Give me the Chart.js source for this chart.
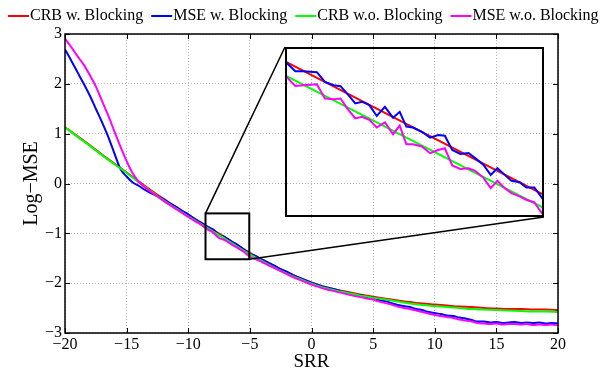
<!DOCTYPE html>
<html>
<head>
<meta charset="utf-8">
<script src="https://cdn.jsdelivr.net/npm/chart.js@4/dist/chart.umd.min.js"></script>
<style>
  body { margin: 0; background: #fff; }
  #wrap { position: relative; width: 600px; height: 375px; }
  #main { position: absolute; left: 0; top: 0; }
  #inset { position: absolute; left: 285px; top: 47px; }
</style>
</head>
<body>
<div id="wrap">
  <canvas id="main" width="600" height="375"></canvas>
  <canvas id="inset" width="259" height="170"></canvas>
</div>
<script>
// SRR grid of the CRB curves (1 dB steps)
const srrCoarse = [-20, -19, -18, -17, -16, -15, -14, -13, -12, -11,
  -10, -9, -8, -7, -6, -5, -4, -3, -2, -1,
  0, 1, 2, 3, 4, 5, 6, 7, 8, 9,
  10, 11, 12, 13, 14, 15, 16, 17, 18, 19, 20];

const crbBlock = [1.13, 0.95, 0.77, 0.58, 0.40, 0.22, 0.04, -0.14, -0.31, -0.47,
  -0.63, -0.78, -0.93, -1.08, -1.24, -1.39, -1.53, -1.66, -1.78, -1.89,
  -1.99, -2.07, -2.13, -2.18, -2.23, -2.27, -2.31, -2.35, -2.38, -2.41,
  -2.43, -2.45, -2.47, -2.48, -2.50, -2.51, -2.52, -2.52, -2.53, -2.53, -2.54];

const crbNoBlock = [1.13, 0.94, 0.76, 0.57, 0.39, 0.21, 0.02, -0.16, -0.34, -0.50,
  -0.66, -0.81, -0.96, -1.11, -1.27, -1.42, -1.56, -1.69, -1.81, -1.91,
  -2.01, -2.09, -2.15, -2.20, -2.25, -2.29, -2.33, -2.37, -2.41, -2.44,
  -2.46, -2.48, -2.50, -2.52, -2.53, -2.54, -2.55, -2.56, -2.57, -2.57, -2.58];

// SRR grid of the simulated MSE curves (0.5 dB steps)
const srrFine = [-20, -19.5, -19, -18.5, -18, -17.5, -17, -16.5, -16, -15.5,
  -15, -14.5, -14, -13.5, -13, -12.5, -12, -11.5, -11, -10.5,
  -10, -9.5, -9, -8.5, -8, -7.5, -7, -6.5, -6, -5.5,
  -5, -4.5, -4, -3.5, -3, -2.5, -2, -1.5, -1, -0.5,
  0, 0.5, 1, 1.5, 2, 2.5, 3, 3.5, 4, 4.5,
  5, 5.5, 6, 6.5, 7, 7.5, 8, 8.5, 9, 9.5,
  10, 10.5, 11, 11.5, 12, 12.5, 13, 13.5, 14, 14.5,
  15, 15.5, 16, 16.5, 17, 17.5, 18, 18.5, 19, 19.5, 20];

const mseBlock = [2.69, 2.47, 2.24, 2.01, 1.77, 1.50, 1.23, 0.94, 0.61, 0.29,
  0.14, 0.02, -0.05, -0.13, -0.20, -0.25, -0.32, -0.40, -0.47, -0.55,
  -0.62, -0.71, -0.78, -0.86, -0.92, -1.03, -1.08, -1.16, -1.23, -1.32,
  -1.41, -1.46, -1.53, -1.59, -1.65, -1.72, -1.77, -1.84, -1.89, -1.94,
  -1.99, -2.03, -2.07, -2.10, -2.13, -2.17, -2.19, -2.23, -2.24, -2.28,
  -2.29, -2.34, -2.36, -2.40, -2.44, -2.46, -2.48, -2.52, -2.54, -2.58,
  -2.60, -2.62, -2.65, -2.66, -2.69, -2.71, -2.74, -2.77, -2.77, -2.79,
  -2.78, -2.80, -2.79, -2.78, -2.80, -2.79, -2.80, -2.79, -2.81, -2.80, -2.81];

const mseNoBlock = [2.91, 2.74, 2.56, 2.39, 2.18, 1.95, 1.66, 1.37, 1.05, 0.74,
  0.45, 0.20, 0.03, -0.08, -0.17, -0.26, -0.35, -0.43, -0.51, -0.59,
  -0.67, -0.75, -0.82, -0.91, -0.98, -1.09, -1.14, -1.22, -1.29, -1.37,
  -1.47, -1.52, -1.58, -1.64, -1.70, -1.76, -1.82, -1.88, -1.93, -1.98,
  -2.03, -2.07, -2.11, -2.14, -2.17, -2.20, -2.23, -2.26, -2.28, -2.31,
  -2.33, -2.37, -2.40, -2.43, -2.47, -2.50, -2.52, -2.55, -2.58, -2.61,
  -2.64, -2.66, -2.68, -2.70, -2.73, -2.75, -2.77, -2.80, -2.81, -2.82,
  -2.81, -2.83, -2.82, -2.82, -2.83, -2.82, -2.84, -2.83, -2.84, -2.83, -2.85];

// close-up of the -8.5 .. -5 dB stretch
const insetSrr = [-8.50, -8.36, -8.25, -8.07, -7.96, -7.84, -7.75, -7.66, -7.55, -7.46,
  -7.36, -7.26, -7.15, -7.04, -6.95, -6.86, -6.77, -6.65, -6.54, -6.43,
  -6.34, -6.24, -6.13, -6.02, -5.93, -5.82, -5.72, -5.63, -5.53, -5.44,
  -5.33, -5.24, -5.13, -5.00];
const insetMseBlock = [-0.860, -0.900, -0.900, -0.904, -0.944, -0.957, -0.961, -0.991, -1.031, -1.024,
  -1.038, -1.082, -1.045, -1.089, -1.065, -1.125, -1.129, -1.146, -1.170, -1.159,
  -1.162, -1.220, -1.236, -1.232, -1.253, -1.280, -1.321, -1.294, -1.321, -1.345,
  -1.351, -1.372, -1.372, -1.426];
const insetMseNoBlock = [-0.917, -0.960, -0.957, -0.953, -1.011, -1.014, -1.011, -1.051, -1.092, -1.085,
  -1.098, -1.129, -1.108, -1.156, -1.121, -1.197, -1.197, -1.206, -1.233, -1.220,
  -1.213, -1.283, -1.297, -1.294, -1.305, -1.332, -1.375, -1.345, -1.375, -1.395,
  -1.408, -1.422, -1.433, -1.489];
const insetCrbSrr = [-8.5, -5];
const insetCrbBlock = [-0.860, -1.402];
const insetCrbNoBlock = [-0.917, -1.456];

// zoom rectangle on the main axes, and the inset's placement on the page
const zoomBox = { x0: -8.6, x1: -5.05, y0: -0.6, y1: -1.52 };
const insetBox = { left: 285, top: 47, width: 259, height: 170 };

const serif = "'Liberation Serif', 'Times New Roman', serif";
Chart.defaults.font.family = serif;
Chart.defaults.color = '#000';

const minus = v => (v < 0 ? '\u2212' + Math.abs(v) : String(v));

function series(label, xs, ys, color, order, smooth) {
  return {
    label,
    data: xs.map((x, i) => ({ x, y: ys[i] })),
    borderColor: color,
    backgroundColor: color,
    borderWidth: 2,
    pointRadius: 0,
    fill: false,
    order,
    cubicInterpolationMode: smooth ? 'monotone' : 'default'
  };
}

// box around the axes with inward ticks on all four sides
const frame = {
  id: 'frame',
  afterDraw(chart) {
    const { ctx, chartArea: a, scales } = chart;
    ctx.save();
    ctx.strokeStyle = '#000';
    ctx.lineWidth = 1.5;
    ctx.strokeRect(a.left, a.top, a.right - a.left, a.bottom - a.top);
    ctx.lineWidth = 1;
    ctx.beginPath();
    scales.x.ticks.forEach(t => {
      const px = Math.round(scales.x.getPixelForValue(t.value)) + 0.5;
      ctx.moveTo(px, a.bottom); ctx.lineTo(px, a.bottom - 5);
      ctx.moveTo(px, a.top); ctx.lineTo(px, a.top + 5);
    });
    scales.y.ticks.forEach(t => {
      const py = Math.round(scales.y.getPixelForValue(t.value)) + 0.5;
      ctx.moveTo(a.left, py); ctx.lineTo(a.left + 5, py);
      ctx.moveTo(a.right, py); ctx.lineTo(a.right - 5, py);
    });
    ctx.stroke();
    ctx.restore();
  }
};

// one-row legend with a short line sample before each name
const lineLegend = {
  id: 'lineLegend',
  afterDraw(chart) {
    const ctx = chart.ctx;
    ctx.save();
    ctx.font = '16px ' + serif;
    ctx.textBaseline = 'middle';
    ctx.fillStyle = '#000';
    let x = 8;
    const y = 16;
    chart.data.datasets.forEach(ds => {
      ctx.strokeStyle = ds.borderColor;
      ctx.lineWidth = 2;
      ctx.beginPath();
      ctx.moveTo(x, y); ctx.lineTo(x + 21, y);
      ctx.stroke();
      ctx.fillText(ds.label, x + 22, y);
      x += 22 + ctx.measureText(ds.label).width + 8;
    });
    ctx.restore();
  }
};

// zoom rectangle plus the two leader lines to the inset corners
const zoomMarks = {
  id: 'zoomMarks',
  afterDraw(chart) {
    const { ctx, scales } = chart;
    const l = scales.x.getPixelForValue(zoomBox.x0);
    const r = scales.x.getPixelForValue(zoomBox.x1);
    const t = scales.y.getPixelForValue(zoomBox.y0);
    const b = scales.y.getPixelForValue(zoomBox.y1);
    ctx.save();
    ctx.strokeStyle = '#000';
    ctx.lineWidth = 2;
    ctx.strokeRect(l, t, r - l, b - t);
    ctx.lineWidth = 1.5;
    ctx.beginPath();
    ctx.moveTo(l, t); ctx.lineTo(insetBox.left, insetBox.top);
    ctx.moveTo(r, b); ctx.lineTo(insetBox.left + insetBox.width, insetBox.top + insetBox.height);
    ctx.stroke();
    ctx.restore();
  }
};

const gridStyle = { color: '#b4b4b4', drawTicks: false };
const borderStyle = { display: false, dash: [1, 2] };

new Chart(document.getElementById('main'), {
  type: 'line',
  data: {
    datasets: [
      series('CRB w. Blocking', srrCoarse, crbBlock, '#ff0000', 4, true),
      series('MSE w. Blocking', srrFine, mseBlock, '#0000ff', 3, true),
      series('CRB w.o. Blocking', srrCoarse, crbNoBlock, '#00ff00', 2, true),
      series('MSE w.o. Blocking', srrFine, mseNoBlock, '#ff00ff', 1, true)
    ]
  },
  options: {
    responsive: false,
    animation: false,
    layout: { padding: { top: 34, right: 42, left: 0, bottom: 0 } },
    plugins: { legend: { display: false }, tooltip: { enabled: false } },
    scales: {
      x: {
        type: 'linear', min: -20, max: 20,
        ticks: { stepSize: 5, callback: minus, font: { size: 16 }, padding: 2, maxRotation: 0 },
        grid: gridStyle,
        border: borderStyle,
        title: { display: true, text: 'SRR', font: { size: 19 }, padding: { top: 0, bottom: 2 } },
        afterFit: s => { s.height = 42; }
      },
      y: {
        min: -3, max: 3,
        ticks: { stepSize: 1, callback: minus, font: { size: 16 }, padding: 3 },
        grid: gridStyle,
        border: borderStyle,
        title: { display: true, text: 'Log\u2212MSE', font: { size: 20 }, padding: { top: 20, bottom: 0 } },
        afterFit: s => { s.width = 65; }
      }
    }
  },
  plugins: [frame, lineLegend, zoomMarks]
});

// inset: same curves, magnified
const insetFrame = {
  id: 'insetFrame',
  afterDraw(chart) {
    const { ctx, width, height } = chart;
    ctx.save();
    ctx.strokeStyle = '#000';
    ctx.lineWidth = 2;
    ctx.strokeRect(1, 1, width - 2, height - 2);
    ctx.restore();
  }
};

new Chart(document.getElementById('inset'), {
  type: 'line',
  data: {
    datasets: [
      series('CRB w. Blocking', insetCrbSrr, insetCrbBlock, '#ff0000', 4, false),
      series('MSE w. Blocking', insetSrr, insetMseBlock, '#0000ff', 3, false),
      series('CRB w.o. Blocking', insetCrbSrr, insetCrbNoBlock, '#00ff00', 2, false),
      series('MSE w.o. Blocking', insetSrr, insetMseNoBlock, '#ff00ff', 1, false)
    ]
  },
  options: {
    responsive: false,
    animation: false,
    layout: { padding: 0 },
    plugins: { legend: { display: false }, tooltip: { enabled: false } },
    scales: {
      x: { type: 'linear', display: false, min: -8.5, max: -5 },
      y: { display: false, min: -1.492, max: -0.802 }
    }
  },
  plugins: [insetFrame]
});
</script>
</body>
</html>
